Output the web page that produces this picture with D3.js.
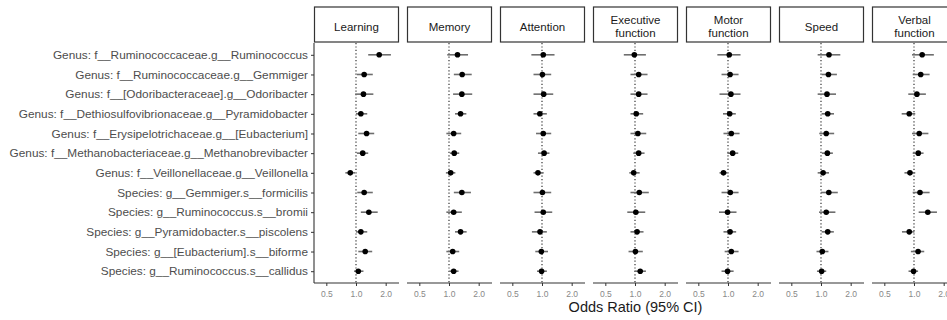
<!DOCTYPE html>
<html>
<head>
<meta charset="utf-8">
<script src="https://cdn.jsdelivr.net/npm/d3@7"></script>
<style>
  body { margin: 0; background: #fff; }
  svg { display: block; font-family: "Liberation Sans", Arial, sans-serif; }
</style>
</head>
<body>
<div id="chart"></div>
<script>
const taxa = [
  'Genus: f__Ruminococcaceae.g__Ruminococcus',
  'Genus: f__Ruminococcaceae.g__Gemmiger',
  'Genus: f__[Odoribacteraceae].g__Odoribacter',
  'Genus: f__Dethiosulfovibrionaceae.g__Pyramidobacter',
  'Genus: f__Erysipelotrichaceae.g__[Eubacterium]',
  'Genus: f__Methanobacteriaceae.g__Methanobrevibacter',
  'Genus: f__Veillonellaceae.g__Veillonella',
  'Species: g__Gemmiger.s__formicilis',
  'Species: g__Ruminococcus.s__bromii',
  'Species: g__Pyramidobacter.s__piscolens',
  'Species: g__[Eubacterium].s__biforme',
  'Species: g__Ruminococcus.s__callidus'
];

const domains = [
  ['Learning'], ['Memory'], ['Attention'], ['Executive', 'function'],
  ['Motor', 'function'], ['Speed'], ['Verbal', 'function']
];

const xTicks = [0.5, 1.0, 2.0];

// point estimates, one row per domain, same order as taxa
const oddsRatio = [
  [1.72, 1.21, 1.19, 1.12, 1.28, 1.17, 0.875, 1.21, 1.35, 1.12, 1.24, 1.055],
  [1.22, 1.36, 1.35, 1.31, 1.115, 1.13, 1.04, 1.35, 1.115, 1.31, 1.09, 1.115],
  [1.03, 1.01, 1.04, 0.95, 1.03, 1.05, 0.91, 1.01, 1.03, 0.955, 0.985, 0.99],
  [0.985, 1.09, 1.09, 1.03, 1.07, 1.09, 0.97, 1.105, 1.02, 1.05, 1.01, 1.13],
  [1.03, 1.05, 1.07, 1.04, 1.08, 1.115, 0.90, 1.055, 0.99, 1.05, 1.08, 0.99],
  [1.205, 1.19, 1.15, 1.17, 1.13, 1.16, 1.05, 1.20, 1.13, 1.17, 1.03, 1.015],
  [1.21, 1.17, 1.07, 0.895, 1.13, 1.105, 0.91, 1.15, 1.38, 0.895, 1.10, 0.99]
];

const ciLow = [
  [1.33, 1.02, 0.98, 1.0, 1.055, 1.02, 0.78, 1.03, 1.12, 1.0, 1.055, 0.955],
  [0.96, 1.12, 1.10, 1.15, 0.94, 1.02, 0.93, 1.12, 0.94, 1.15, 0.94, 1.01],
  [0.78, 0.82, 0.82, 0.82, 0.87, 0.91, 0.82, 0.82, 0.84, 0.79, 0.855, 0.89],
  [0.77, 0.90, 0.90, 0.90, 0.90, 0.96, 0.875, 0.90, 0.835, 0.90, 0.86, 0.99],
  [0.78, 0.86, 0.82, 0.89, 0.90, 0.985, 0.82, 0.86, 0.81, 0.90, 0.925, 0.86],
  [0.925, 1.015, 0.925, 1.015, 0.96, 1.02, 0.925, 1.0, 0.955, 1.015, 0.90, 0.91],
  [0.955, 0.97, 0.875, 0.75, 0.955, 0.97, 0.80, 0.97, 1.115, 0.755, 0.93, 0.88]
];

const ciHigh = [
  [2.26, 1.48, 1.50, 1.30, 1.53, 1.33, 0.977, 1.48, 1.66, 1.30, 1.46, 1.19],
  [1.56, 1.70, 1.72, 1.50, 1.33, 1.27, 1.16, 1.67, 1.35, 1.51, 1.27, 1.25],
  [1.34, 1.24, 1.30, 1.12, 1.24, 1.19, 1.04, 1.24, 1.27, 1.12, 1.15, 1.12],
  [1.29, 1.34, 1.34, 1.21, 1.30, 1.25, 1.115, 1.38, 1.27, 1.22, 1.20, 1.29],
  [1.34, 1.28, 1.34, 1.20, 1.31, 1.27, 0.985, 1.28, 1.22, 1.21, 1.28, 1.14],
  [1.57, 1.45, 1.42, 1.355, 1.36, 1.32, 1.205, 1.48, 1.40, 1.35, 1.19, 1.13],
  [1.59, 1.44, 1.32, 1.03, 1.40, 1.25, 1.03, 1.44, 1.71, 1.01, 1.27, 1.10]
];

const width = 947, height = 320;
const panelLeft = 314, panelW = 85, panelGap = 8;
const stripTop = 7, panelTop = 43, panelBottom = 283;

const svg = d3.select('#chart').append('svg')
  .attr('width', width)
  .attr('height', height);

const y = d3.scalePoint()
  .domain(taxa)
  .range([panelTop, panelBottom])
  .padding(0.6);

// shared log x scale, shifted per panel
const x = d3.scaleLog()
  .domain([0.375, 2.73])
  .range([0, panelW]);

// Y axis on the first panel only
svg.append('g')
  .attr('transform', `translate(${panelLeft},0)`)
  .call(d3.axisLeft(y).tickSize(3).tickPadding(3))
  .call(g => g.select('.domain').attr('stroke', '#333').attr('stroke-width', 1.1).attr('d', `M0,${panelTop}V${panelBottom}`))
  .call(g => g.selectAll('.tick line').attr('stroke', '#333'))
  .call(g => g.selectAll('.tick text').attr('fill', '#4d4d4d').attr('font-size', 11.8));

domains.forEach((label, i) => {
  const left = panelLeft + i * (panelW + panelGap);
  const g = svg.append('g').attr('transform', `translate(${left},0)`);

  // strip
  g.append('rect')
    .attr('x', 0.5).attr('y', stripTop)
    .attr('width', panelW - 1).attr('height', panelTop - stripTop - 1)
    .attr('fill', '#fff')
    .attr('stroke', '#333')
    .attr('stroke-width', 1.2);

  const st = g.append('text')
    .attr('x', panelW / 2)
    .attr('text-anchor', 'middle')
    .attr('fill', '#1a1a1a')
    .attr('font-size', 11.5);
  if (label.length === 1) {
    st.append('tspan').attr('x', panelW / 2).attr('y', 30.5).text(label[0]);
  } else {
    st.append('tspan').attr('x', panelW / 2).attr('y', 24).text(label[0]);
    st.append('tspan').attr('x', panelW / 2).attr('y', 37).text(label[1]);
  }

  // reference line at OR = 1
  g.append('line')
    .attr('x1', x(1)).attr('x2', x(1))
    .attr('y1', panelTop).attr('y2', panelBottom)
    .attr('stroke', '#222')
    .attr('stroke-width', 1.1)
    .attr('stroke-dasharray', '1.2,2.2');

  // x axis
  g.append('g')
    .attr('transform', `translate(0,${panelBottom})`)
    .call(d3.axisBottom(x).tickValues(xTicks).tickFormat(d3.format('.1f')).tickSize(3).tickPadding(5))
    .call(a => a.select('.domain').attr('stroke', '#333').attr('stroke-width', 1.1).attr('d', `M0,0H${panelW}`))
    .call(a => a.selectAll('.tick line').attr('stroke', '#333'))
    .call(a => a.selectAll('.tick text').attr('fill', '#888').attr('font-size', 8.5));

  const rows = taxa.map((t, j) => ({ taxon: t, est: oddsRatio[i][j], lo: ciLow[i][j], hi: ciHigh[i][j] }));

  g.selectAll('line.ci')
    .data(rows)
    .join('line')
    .attr('class', 'ci')
    .attr('x1', d => x(d.lo))
    .attr('x2', d => x(d.hi))
    .attr('y1', d => y(d.taxon))
    .attr('y2', d => y(d.taxon))
    .attr('stroke', '#6e6e6e')
    .attr('stroke-width', 1.6);

  g.selectAll('circle.pt')
    .data(rows)
    .join('circle')
    .attr('class', 'pt')
    .attr('cx', d => x(d.est))
    .attr('cy', d => y(d.taxon))
    .attr('r', 2.8)
    .attr('fill', '#000');
});

svg.append('text')
  .attr('x', panelLeft + (7 * panelW + 6 * panelGap) / 2)
  .attr('y', 312)
  .attr('text-anchor', 'middle')
  .attr('fill', '#1a1a1a')
  .attr('font-size', 14.5)
  .text('Odds Ratio (95% CI)');
</script>
</body>
</html>
